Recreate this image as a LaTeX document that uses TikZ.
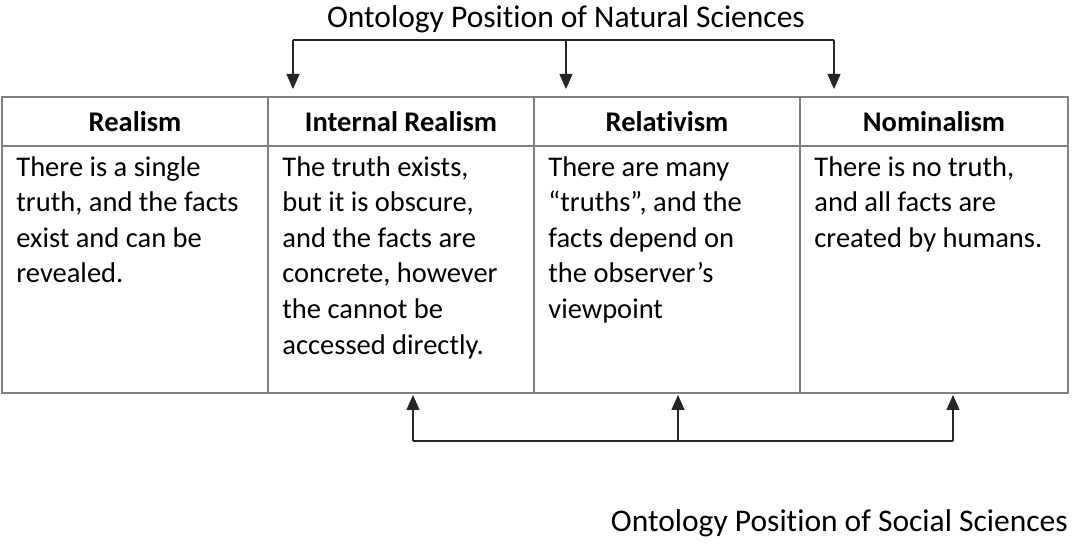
\documentclass[tikz,border=0pt]{standalone}
\usepackage{fontspec}
\setmainfont{Carlito}[Ligatures=NoCommon]
\usetikzlibrary{arrows.meta}
\begin{document}
\begin{tikzpicture}[x=1pt,y=-1pt,
  cell/.style={draw=gray,line width=1.6pt,minimum width=266pt,inner sep=0pt},
  hdr/.style={cell,minimum height=49pt,font=\fontsize{28.5}{34}\selectfont\bfseries},
  bodycell/.style={cell,minimum height=247pt},
  celltext/.style={anchor=north west,text width=250pt,align=flush left,inner sep=0pt,
    font=\fontsize{28.5}{35.6}\selectfont},
  label/.style={font=\fontsize{31.5}{38}\selectfont,inner sep=0pt},
  conn/.style={line width=1.1pt,black!85},
  arr/.style={conn,-{Triangle[width=13pt,length=15pt]}}]
\useasboundingbox (0,0) rectangle (1080,545);

% header row
\node[hdr] (h1) at (135,121.5) {Realism};
\node[hdr] (h2) at (401,121.5) {Internal Realism};
\node[hdr] (h3) at (667,121.5) {Relativism};
\node[hdr,minimum width=268pt] (h4) at (934,121.5) {Nominalism};

% body row
\node[bodycell] (c1) at (135,269.5) {};
\node[bodycell] (c2) at (401,269.5) {};
\node[bodycell] (c3) at (667,269.5) {};
\node[bodycell,minimum width=268pt] (c4) at (934,269.5) {};

\node[celltext] (t1) at ([xshift=15pt,yshift=-11pt]c1.north west)
  {There is a single\\truth, and the facts\\exist and can be\\revealed.};
\node[celltext] (t2) at ([xshift=15pt,yshift=-11pt]c2.north west)
  {The truth exists,\\but it is obscure,\\and the facts are\\concrete, however\\the cannot be\\accessed directly.};
\node[celltext] (t3) at ([xshift=15pt,yshift=-11pt]c3.north west)
  {There are many\\“truths”, and the\\facts depend on\\the observer’s\\viewpoint};
\node[celltext] (t4) at ([xshift=15pt,yshift=-11pt]c4.north west)
  {There is no truth,\\and all facts are\\created by humans.};

% labels
\node[label,anchor=base] (nat) at (566,28) {Ontology Position of Natural Sciences};
\node[label,anchor=base east] (soc) at (1068,531) {Ontology Position of Social Sciences};

% natural sciences connector
\coordinate (nbar) at (566,40);
\coordinate (na2) at (293,89);
\coordinate (na3) at (566,89);
\coordinate (na4) at (834,89);
\draw[conn] (nbar -| na2) -- (nbar -| na4);
\draw[arr] (nbar -| na2) -- (na2);
\draw[arr] (nbar -| na3) -- (na3);
\draw[arr] (nbar -| na4) -- (na4);

% social sciences connector
\coordinate (sbar) at (678,441);
\coordinate (sa2) at (413,395);
\coordinate (sa3) at (678,395);
\coordinate (sa4) at (953,395);
\draw[conn] (sbar -| sa2) -- (sbar -| sa4);
\draw[arr] (sbar -| sa2) -- (sa2);
\draw[arr] (sbar -| sa3) -- (sa3);
\draw[arr] (sbar -| sa4) -- (sa4);
\end{tikzpicture}
\end{document}
